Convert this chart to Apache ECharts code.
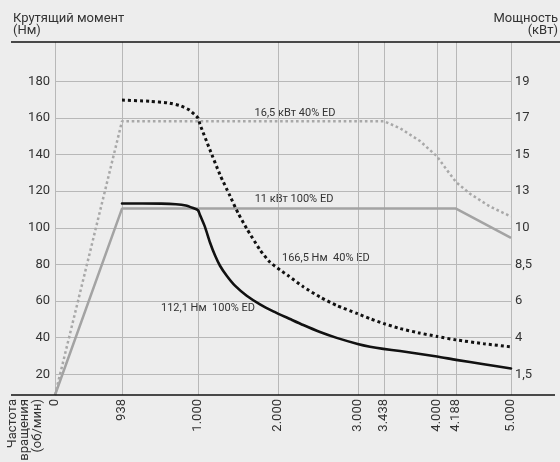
<!DOCTYPE html>
<html><head><meta charset="utf-8">
<script src="https://cdn.jsdelivr.net/npm/echarts@6/dist/echarts.min.js"></script>
<style>html,body{margin:0;padding:0;background:#ededed}#c{width:560px;height:462px}</style>
</head><body><div id="c"></div>
<script>
// Axis ticks (the reference chart uses a schematic, non-linear rpm axis)
const xTickRpm = [0, 938, 1000, 2000, 3000, 3438, 4000, 4188, 5000];
const xTickLabels = ['0', '938', '1.000', '2.000', '3.000', '3.438', '4.000', '4.188', '5.000'];
const xTickPos = [0, 67, 143, 223, 303, 329, 382, 401, 456];
const torqueTicks = [20, 40, 60, 80, 100, 120, 140, 160, 180];
const powerTickLabels = ['1,5', '4', '6', '8,5', '10', '13', '15', '17', '19'];
const yMin = 8.7, yMax = 201.5;

// Series: [rpm, value on torque scale]
const power100 = [[0, 0], [938, 110.5], [4188, 110.5], [5000, 94.5]];
const power40 = [[0, 0], [938, 158.2], [3438, 158.2], [3608, 154.4], [3820, 147.4], [4000, 139], [4092, 132], [4188, 125], [4395, 118.6], [4690, 111.6], [5000, 106.2]];
const torque40 = [[938, 169.8], [961, 169.1], [975, 168.3], [985, 166.8], [993, 164.3], [1000, 160], [1025, 156.5], [1150, 142.5], [1275, 129], [1400, 117.4], [1504, 107.8], [1609, 99.6], [1775, 88], [1900, 81.2], [2025, 77], [2129, 73.8], [2316, 67.8], [2525, 62.2], [2734, 57.6], [2996, 53.1], [3202, 50.4], [3426, 47.8], [3608, 45], [3800, 42.7], [4000, 40.7], [4188, 38.8], [4600, 36.7], [5000, 35]];
const torque100 = [[938, 113.3], [970, 113.2], [982, 112.9], [990, 112.2], [996, 110.8], [1000, 109.6], [1025, 107], [1087, 100.5], [1150, 92], [1212, 85], [1275, 79.3], [1359, 73.8], [1462, 68.4], [1609, 62.9], [1775, 58.2], [1941, 54.4], [2150, 50.2], [2316, 46.9], [2525, 43.1], [2734, 39.9], [2996, 36.6], [3202, 35.1], [3426, 33.9], [3608, 32.7], [4000, 29.7], [4188, 27.9], [4600, 25.5], [5000, 23.2]];

function mapX(r) {
  for (let i = 1; i < xTickRpm.length; i++) {
    if (r <= xTickRpm[i]) {
      const a = xTickRpm[i - 1], b = xTickRpm[i];
      return xTickPos[i - 1] + (r - a) / (b - a) * (xTickPos[i] - xTickPos[i - 1]);
    }
  }
  return xTickPos[xTickPos.length - 1];
}
function mapY(t) { return t >= 20 ? t : yMin + t * (20 - yMin) / 20; }
function conv(arr) { return arr.map(p => [mapX(p[0]), mapY(p[1])]); }

const txt = '#333';
const FF = 'Roboto, sans-serif';
const chart = echarts.init(document.getElementById('c'));
chart.setOption({
  backgroundColor: '#ededed',
  animation: false,
  grid: { left: 55, right: 49, top: 42, bottom: 67, containLabel: false },
  xAxis: {
    type: 'value', min: 0, max: 456,
    axisLine: { show: false },
    axisTick: { show: false, customValues: xTickPos },
    axisLabel: {
      customValues: xTickPos, rotate: 90, margin: 4, fontSize: 13, color: txt, fontFamily: FF,
      formatter: v => { const i = xTickPos.indexOf(Math.round(v)); return i >= 0 ? xTickLabels[i] : ''; }
    },
    splitLine: { show: true, lineStyle: { color: '#b8b8b8', width: 1 } }
  },
  yAxis: [{
    type: 'value', min: yMin, max: yMax, position: 'left',
    axisLine: { show: false },
    axisTick: { show: false, customValues: torqueTicks },
    axisLabel: { customValues: torqueTicks, margin: 5, fontSize: 13, color: txt, fontFamily: FF },
    splitLine: { show: true, lineStyle: { color: '#b8b8b8', width: 1 } }
  }, {
    type: 'value', min: yMin, max: yMax, position: 'right',
    axisLine: { show: false },
    axisTick: { show: false, customValues: torqueTicks },
    axisLabel: {
      customValues: torqueTicks, margin: 4, fontSize: 13, color: txt, fontFamily: FF,
      formatter: v => { const i = torqueTicks.indexOf(Math.round(v)); return i >= 0 ? powerTickLabels[i] : ''; }
    },
    splitLine: { show: false }
  }],
  series: [
    { type: 'line', data: conv(power100), showSymbol: false, lineStyle: { color: '#a3a3a3', width: 2.5 }, z: 2 },
    { type: 'line', data: conv(power40), showSymbol: false, lineStyle: { color: '#a8a8a8', width: 2.5, type: [2.6, 2.7] }, z: 2 },
    { type: 'line', data: conv(torque40), showSymbol: false, smooth: 0.2, lineStyle: { color: '#111', width: 3, type: [3, 3] }, z: 3 },
    { type: 'line', data: conv(torque100), showSymbol: false, smooth: 0.2, lineStyle: { color: '#111', width: 2.6, join: 'round', cap: 'round' }, z: 4 }
  ],
  graphic: [
    { type: 'line', z: 10, shape: { x1: 11, y1: 42, x2: 560, y2: 42 }, style: { stroke: '#111', lineWidth: 1.6 } },
    { type: 'line', z: 10, shape: { x1: 11, y1: 395, x2: 555, y2: 395 }, style: { stroke: '#111', lineWidth: 1.6 } },
    { type: 'text', x: 13, y: 13, style: { text: 'Крутящий момент\n(Нм)', fill: txt, font: '13px ' + FF, lineHeight: 12 } },
    { type: 'text', x: 558, y: 13, style: { text: 'Мощность\n(кВт)', fill: txt, font: '13px ' + FF, lineHeight: 12, align: 'right' } },
    { type: 'text', x: 6, y: 399, rotation: Math.PI / 2, style: { text: 'Частота\nвращения\n(об/мин)', fill: txt, font: '13px ' + FF, lineHeight: 12.5, align: 'right', verticalAlign: 'top' } },
    { type: 'text', x: 295, y: 113, style: { text: '16,5 кВт 40% ED', fill: txt, font: '11px ' + FF, align: 'center', verticalAlign: 'middle' } },
    { type: 'text', x: 294, y: 199, style: { text: '11 кВт 100% ED', fill: txt, font: '11px ' + FF, align: 'center', verticalAlign: 'middle' } },
    { type: 'text', x: 282, y: 258, style: { text: '166,5 Нм  40% ED', fill: txt, font: '11px ' + FF, align: 'left', verticalAlign: 'middle' } },
    { type: 'text', x: 161, y: 308, style: { text: '112,1 Нм  100% ED', fill: txt, font: '11px ' + FF, align: 'left', verticalAlign: 'middle' } }
  ]
});
</script></body></html>
